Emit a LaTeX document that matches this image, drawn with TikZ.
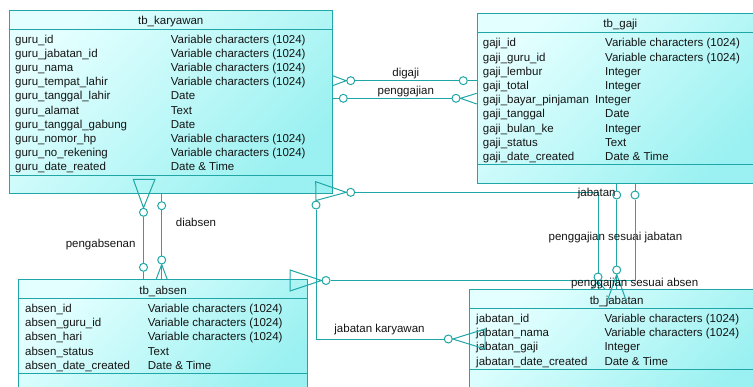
\documentclass[tikz,border=0pt]{standalone}
\usepackage{fontspec}
\setmainfont{Liberation Sans}
\definecolor{tl}{RGB}{32,166,166}
\definecolor{tlight}{RGB}{228,255,255}
\definecolor{tdark}{RGB}{155,241,241}
\definecolor{ink}{RGB}{20,20,20}
\newcommand\tabfont{\fontsize{11.5pt}{13pt}\selectfont}
\tikzset{
  tblbox/.style={draw=tl, line width=1pt, top color=tlight, bottom color=tdark,
    shading angle=45, anchor=north west, inner sep=0pt},
  tline/.style={draw=tl, line width=1pt},
  link/.style={draw=tl, line width=1pt},
  cell/.style={text=ink, inner sep=0pt, font=\tabfont, text height=8.3pt, text depth=2.4pt},
  lbl/.style={cell},
  opt/.style={circle, draw=tl, line width=1pt, fill=white, inner sep=0pt, minimum size=8pt},
}
% rows of an entity: prefix, x of name column, x of type column, y of first row, name/type list
\newcommand\tablerows[5]{%
  \foreach \ca/\cb [count=\ci] in {#5}{%
    \node[cell, anchor=west] (#1a\ci) at ({#2},{#4+14.2*(\ci-1)}) {\ca};
    \node[cell, anchor=west] (#1b\ci) at ({#3},{#4+14.2*(\ci-1)}) {\cb};
  }}
\begin{document}
\begin{tikzpicture}[x=1pt,y=-1pt]
\useasboundingbox (0,0) rectangle (753,386);
\clip (0,0) rectangle (753,386);

% ---------- entities ----------
\node[tblbox, minimum width=322.5pt, minimum height=183pt] (kar) at (9,10) {};
\node[tblbox, minimum width=286.3pt, minimum height=169.4pt] (gaji) at (476.7,13.3) {};
\node[tblbox, minimum width=288.4pt, minimum height=120pt] (absen) at (18.3,279.3) {};
\node[tblbox, minimum width=293.7pt, minimum height=110pt] (jab) at (469.3,289.3) {};

\draw[tline] (kar.west |- 0,29) -- (kar.east |- 0,29);
\draw[tline] (kar.west |- 0,175.7) -- (kar.east |- 0,175.7);
\draw[tline] (gaji.west |- 0,32.7) -- (gaji.east |- 0,32.7);
\draw[tline] (gaji.west |- 0,164) -- (gaji.east |- 0,164);
\draw[tline] (absen.west |- 0,298.3) -- (absen.east |- 0,298.3);
\draw[tline] (absen.west |- 0,373.3) -- (absen.east |- 0,373.3);
\draw[tline] (jab.west |- 0,308.3) -- (jab.east |- 0,308.3);
\draw[tline] (jab.west |- 0,369.3) -- (jab.east |- 0,369.3);

\node[cell] (karT) at (kar.north |- 0,22) {tb\_karyawan};
\node[cell] (gajiT) at (gaji.north |- 0,25) {tb\_gaji};
\node[cell] (absenT) at (absen.north |- 0,291.5) {tb\_absen};
\node[cell] (jabT) at (jab.north |- 0,301.5) {tb\_jabatan};

\tablerows{kr}{15}{170.7}{40.2}{guru\_id/Variable characters (1024),
  guru\_jabatan\_id/Variable characters (1024),
  guru\_nama/Variable characters (1024),
  guru\_tempat\_lahir/Variable characters (1024),
  guru\_tanggal\_lahir/Date,
  guru\_alamat/Text,
  guru\_tanggal\_gabung/Date,
  guru\_nomor\_hp/Variable characters (1024),
  guru\_no\_rekening/Variable characters (1024),
  guru\_date\_reated/Date \& Time}

\tablerows{gj}{482.7}{605}{43.9}{gaji\_id/Variable characters (1024),
  gaji\_guru\_id/Variable characters (1024),
  gaji\_lembur/Integer,
  gaji\_total/Integer}
\node[cell, anchor=west] (gjbayar) at (482.7,100.7) {gaji\_bayar\_pinjaman};
\node[cell, anchor=west] (gjbayarT) at (595,100.7) {Integer};
\tablerows{gk}{482.7}{605}{114.9}{gaji\_tanggal/Date,
  gaji\_bulan\_ke/Integer,
  gaji\_status/Text,
  gaji\_date\_created/Date \& Time}

\tablerows{ab}{25}{147.7}{309.5}{absen\_id/Variable characters (1024),
  absen\_guru\_id/Variable characters (1024),
  absen\_hari/Variable characters (1024),
  absen\_status/Text,
  absen\_date\_created/Date \& Time}

\tablerows{jb}{476}{604.3}{319.5}{jabatan\_id/Variable characters (1024),
  jabatan\_nama/Variable characters (1024),
  jabatan\_gaji/Integer,
  jabatan\_date\_created/Date \& Time}

% ---------- optionality circles ----------
\node[opt] (k1) at (350.7,80.7) {};
\node[opt] (g1) at (463.3,80.7) {};
\node[opt] (k2) at (343.3,98.3) {};
\node[opt] (g2) at (456,98.3) {};
\node[opt] (k3) at (350.7,192.3) {};
\node[opt] (j3) at (598,277) {};
\node[opt] (k4) at (316,205) {};
\node[opt] (j4) at (448.3,339) {};
\node[opt] (g5) at (616.7,195) {};
\node[opt] (j5) at (616.7,270) {};
\node[opt] (g6) at (635,195) {};
\node[opt] (a6) at (326,280.5) {};
\node[opt] (k7) at (143.5,212.3) {};
\node[opt] (a7) at (143.5,267.3) {};
\node[opt] (k8) at (161.7,205.7) {};
\node[opt] (a8) at (161.7,260) {};

% ---------- relationships ----------
% digaji
\draw[link] (kar.east |- 0,75.7) -- (k1.west) -- (kar.east |- 0,85.7);
\draw[link] (k1) -- (g1) -- (g1 -| gaji.west);
\node[lbl] (l1) at (405.8,74) {digaji};

% penggajian
\draw[link] (k2 -| kar.east) -- (k2) -- (g2);
\draw[link] (gaji.west |- 0,93.3) -- (g2.east) -- (gaji.west |- 0,104);
\node[lbl] (l2) at (405.8,91.5) {penggajian};

% jabatan
\coordinate (t3a) at (315.7,181.7);
\draw[link] (t3a) -- (k3.west) -- (k4.north) -- cycle;
\draw[link] (k3) -- (k3 -| j3) -- (j3);
\draw[link] (j3.south) -- (jab.north -| 591,0);
\draw[link] (j3.south) -- (jab.north -| 605,0);
\draw[link] (j3.south) -- (jab.north -| j3);
\node[lbl] (l3) at (596.7,194) {jabatan};

% jabatan karyawan
\coordinate (t4a) at (485,329);
\coordinate (t4b) at (485,349);
\draw[link] (k4) -- (k4 |- j4) -- (j4);
\draw[link] (j4.east) -- (t4a) -- (t4b) -- cycle;
\node[lbl] (l4) at (379.5,329.3) {jabatan karyawan};

% penggajian sesuai jabatan
\coordinate (t5a) at (607.3,301);
\coordinate (t5b) at (626.4,301);
\draw[link] (gaji.south -| g5) -- (g5) -- (j5);
\draw[link] (j5.south) -- (t5a);
\draw[link] (j5.south) -- (t5b);
\draw[link] (j5.south) -- (jab.north -| j5);
\node[lbl] (l5) at (615.5,238) {penggajian sesuai jabatan};

% penggajian sesuai absen
\coordinate (t6a) at (290,270);
\coordinate (t6b) at (290,291);
\draw[link] (gaji.south -| g6) -- (g6) -- (g6 |- a6) -- (a6);
\draw[link] (a6.west) -- (t6a) -- (t6b) -- cycle;
\node[lbl] (l6) at (634.7,284) {penggajian sesuai absen};

% pengabsenan
\coordinate (t7a) at (133.3,179.3);
\coordinate (t7b) at (155,179.3);
\draw[link] (t7a) -- (t7b) -- (k7.north) -- cycle;
\draw[link] (k7) -- (a7) -- (a7 |- absen.north);
\node[lbl, anchor=east] (l7) at (135.7,245) {pengabsenan};

% diabsen
\draw[link] (kar.south -| k8) -- (k8) -- (a8) -- (a8 |- absen.north);
\draw[link] (a8.south) -- (absen.north -| 156.2,0);
\draw[link] (a8.south) -- (absen.north -| 167.2,0);
\node[lbl] (l8) at (196,223.3) {diabsen};
\end{tikzpicture}
\end{document}
